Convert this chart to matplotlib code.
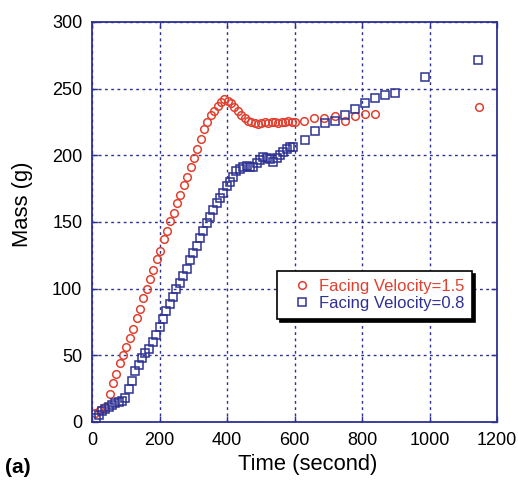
import matplotlib.pyplot as plt

plt.rcParams['font.family'] = ['Liberation Sans', 'DejaVu Sans']

# Facing velocity 1.5 (red circles)
t_fast = [10, 24, 38, 52, 62, 72, 82, 92, 102, 112, 122, 132, 142, 152, 162, 172,
          182, 192, 202, 212, 222, 232, 242, 252, 262, 272, 282, 292, 302, 312,
          322, 332, 342, 352, 362, 372, 382, 392, 402, 412, 422, 432, 442, 452,
          462, 472, 482, 492, 502, 512, 522, 532, 542, 552, 562, 572, 582, 592,
          601, 628, 658, 688, 720, 750, 779, 808, 838, 1146]
m_fast = [7, 9, 11.5, 21, 29, 36, 44, 50, 56, 63, 70, 78, 85, 93, 100, 107,
          114, 122, 128, 137, 143, 151, 157, 164, 170, 178, 184, 191, 198, 205,
          212, 220, 225, 230, 233, 237, 240, 242, 241, 239, 236, 233, 230, 228,
          226, 225, 224, 223.5, 224.5, 225, 224.5, 225, 225, 224.5, 225, 225, 226, 225,
          225, 226, 228, 228, 229.5, 225.5, 229.5, 231, 231, 236]

# Facing velocity 0.8 (blue squares)
t_slow = [13, 21, 30, 39, 49, 59, 69, 79, 89, 99, 109, 119, 128, 138, 148, 158,
          170, 180, 190, 200, 210, 220, 230, 240, 250, 260, 270, 280, 290, 300,
          310, 320, 330, 340, 350, 359, 369, 379, 389, 399, 409, 418, 428, 438,
          448, 458, 468, 478, 488, 498, 508, 518, 528, 537, 547, 557, 567, 577,
          587, 597, 631, 661, 690, 720, 750, 779, 809, 839, 868, 898, 987, 1144]
m_slow = [3, 5, 8, 9.5, 11, 13, 14, 15, 16, 18, 25, 31, 38, 43, 48, 51.5,
          55, 60, 65, 71.5, 77, 83, 88.5, 94, 99.5, 104.5, 109.5, 115, 121.5, 127,
          132, 138, 143, 149, 154, 159, 164, 168, 171.5, 177, 180, 184, 188, 189.5,
          191.5, 192, 191, 191.5, 194, 196.5, 198.5, 198, 197, 195, 198, 200, 202.5, 205,
          206, 206.5, 211.5, 218, 224, 226, 230, 234.5, 239.5, 243, 245, 247, 259, 271.5]

x_ticks = [0, 200, 400, 600, 800, 1000, 1200]
y_ticks = [0, 50, 100, 150, 200, 250, 300]

red = '#e0402f'
blue = '#2e3192'

fig = plt.figure(figsize=(5.18, 4.82), dpi=100)
ax = fig.add_axes([0.1776, 0.1245, 0.7819, 0.8299])

ax.plot(t_fast, m_fast, 'o', mfc='none', mec=red, mew=1.1, ms=5.5,
        label='Facing Velocity=1.5')
ax.plot(t_slow, m_slow, 's', mfc='none', mec=blue, mew=1.1, ms=5.5,
        label='Facing Velocity=0.8')

ax.set_xlim(0, 1200)
ax.set_ylim(0, 300)
ax.set_xticks(x_ticks)
ax.set_yticks(y_ticks)
ax.grid(True, color=blue, linestyle=(0, (2, 2.5)), linewidth=1.0)
ax.set_axisbelow(True)
ax.tick_params(direction='in', top=True, right=True, length=4, width=1,
               color=blue, labelsize=13, pad=7)
for s in ax.spines.values():
    s.set_color(blue)
    s.set_linewidth(1.3)

ax.set_xlabel('Time (second)', fontsize=15.8)
ax.set_ylabel('Mass (g)', fontsize=15.8)
ax.xaxis.set_label_coords(0.533, -0.08)
ax.yaxis.set_label_coords(-0.145, 0.545)
fig.text(0.01, 0.018, '(a)', fontsize=15, fontweight='bold')

leg = ax.legend(loc='upper left', bbox_to_anchor=(0.457, 0.3775), borderaxespad=0,
                fancybox=False, shadow={'color': 'black', 'alpha': 1},
                edgecolor='black', fontsize=12, handlelength=2.0, handletextpad=0.0,
                labelspacing=0.1, borderpad=0.5, framealpha=1)
leg.get_frame().set_linewidth(1.2)
for txt, c in zip(leg.get_texts(), [red, blue]):
    txt.set_color(c)

fig.savefig('out.png', dpi=100)
